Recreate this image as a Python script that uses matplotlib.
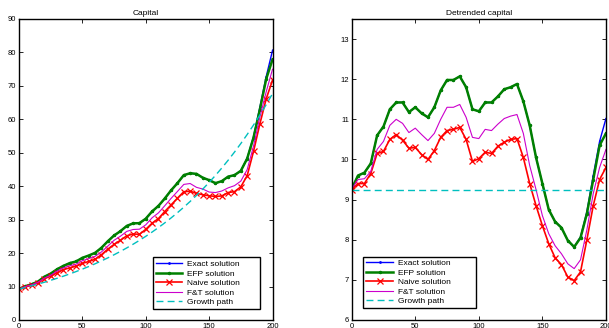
import numpy as np
import matplotlib
matplotlib.use("Agg")
import matplotlib.pyplot as plt

# ----------------------
# Datos (capital detrendido, cada 5 periodos)
# ----------------------
periods = list(range(0, 201, 5))

exact_det = [9.27, 9.60, 9.67, 9.90, 10.60, 10.82, 11.25, 11.42, 11.42, 11.18,
             11.30, 11.15, 11.05, 11.30, 11.72, 11.98, 11.98, 12.07, 11.80, 11.25,
             11.20, 11.42, 11.42, 11.57, 11.75, 11.80, 11.88, 11.45, 10.85, 10.05,
             9.40, 8.75, 8.45, 8.30, 7.98, 7.82, 8.07, 8.70, 9.60, 10.45, 11.02]
efp_det = [9.27, 9.60, 9.67, 9.90, 10.60, 10.82, 11.25, 11.42, 11.42, 11.18,
           11.30, 11.15, 11.05, 11.30, 11.72, 11.98, 11.98, 12.07, 11.80, 11.25,
           11.20, 11.42, 11.42, 11.57, 11.75, 11.80, 11.88, 11.45, 10.85, 10.05,
           9.40, 8.75, 8.45, 8.30, 7.98, 7.82, 8.05, 8.65, 9.50, 10.35, 10.65]
naive_det = [9.25, 9.40, 9.40, 9.65, 10.15, 10.20, 10.50, 10.62, 10.48, 10.28,
             10.30, 10.12, 10.00, 10.22, 10.55, 10.72, 10.75, 10.80, 10.50, 9.95,
             10.02, 10.18, 10.15, 10.33, 10.43, 10.50, 10.52, 10.05, 9.40, 8.85,
             8.35, 7.90, 7.55, 7.38, 7.07, 6.98, 7.20, 8.00, 8.85, 9.50, 9.80]
ft_det = [9.27, 9.50, 9.52, 9.70, 10.25, 10.45, 10.85, 11.00, 10.90, 10.67,
          10.78, 10.62, 10.47, 10.65, 11.00, 11.30, 11.30, 11.37, 11.05, 10.55,
          10.52, 10.75, 10.72, 10.88, 11.02, 11.08, 11.12, 10.65, 9.85, 9.25,
          8.60, 8.15, 7.85, 7.65, 7.40, 7.28, 7.50, 8.25, 9.15, 9.80, 10.25]

k0 = 9.25        # capital inicial (senda de crecimiento)
growth = 1.01    # factor de crecimiento por periodo

labels = ["Exact solution", "EFP solution", "Naive solution", "F&T solution", "Growth path"]

# ----------------------
# Series
# ----------------------
t = np.array(periods)
trend = growth ** t
det = {
    "exact": np.array(exact_det),
    "efp": np.array(efp_det),
    "naive": np.array(naive_det),
    "ft": np.array(ft_det),
    "growth": np.full(len(t), k0),
}
lev = {k: v * trend for k, v in det.items()}

styles = {
    "exact": dict(color=(0, 0, 1), lw=1.0, marker=".", ms=2),
    "efp": dict(color=(0, 0.5, 0), lw=1.8, marker=".", ms=3),
    "naive": dict(color=(1, 0, 0), lw=1.2, marker="x", ms=4, mew=0.9),
    "ft": dict(color=(0.8, 0, 0.8), lw=0.8),
    "growth": dict(color=(0, 0.75, 0.75), lw=1.0, ls=(0, (5, 3))),
}

plt.rcParams["font.family"] = ["Liberation Sans", "DejaVu Sans"]

fig = plt.figure(figsize=(6.09, 3.28), dpi=100)
ax1 = fig.add_axes([0.0312, 0.0244, 0.4163, 0.9177])
ax2 = fig.add_axes([0.5775, 0.0244, 0.4175, 0.9177])

for ax, data in [(ax1, lev), (ax2, det)]:
    for key, lab in zip(["exact", "efp", "naive", "ft", "growth"], labels):
        ax.plot(t, data[key], label=lab, **styles[key])
    ax.set_xlim(0, 200)
    ax.set_xticks([0, 50, 100, 150, 200])
    ax.tick_params(direction="in", length=3, width=0.6, labelsize=5.5,
                   top=True, right=True, pad=2)
    for s in ax.spines.values():
        s.set_linewidth(1.0)

ax1.set_ylim(0, 90)
ax1.set_yticks(range(0, 91, 10))
ax1.set_title("Capital", fontsize=6, pad=3)

ax2.set_ylim(6, 13.5)
ax2.set_yticks(range(6, 14))
ax2.set_title("Detrended capital", fontsize=6, pad=3)

# leyendas tipo MATLAB (caja ancha, texto a la izquierda)
leg_kw = dict(fontsize=6, labelspacing=0.2, handlelength=3.2, handletextpad=0.6,
              borderpad=0.35, fancybox=False, framealpha=1, edgecolor="black",
              loc="lower left", mode="expand", borderaxespad=0)
l1 = ax1.legend(bbox_to_anchor=(0.527, 0.0365, 0.424, 0.2), **leg_kw)
l2 = ax2.legend(bbox_to_anchor=(0.0456, 0.039, 0.442, 0.2), **leg_kw)
for lg in (l1, l2):
    lg.get_frame().set_linewidth(1.0)

fig.savefig("out.png", dpi=100)
